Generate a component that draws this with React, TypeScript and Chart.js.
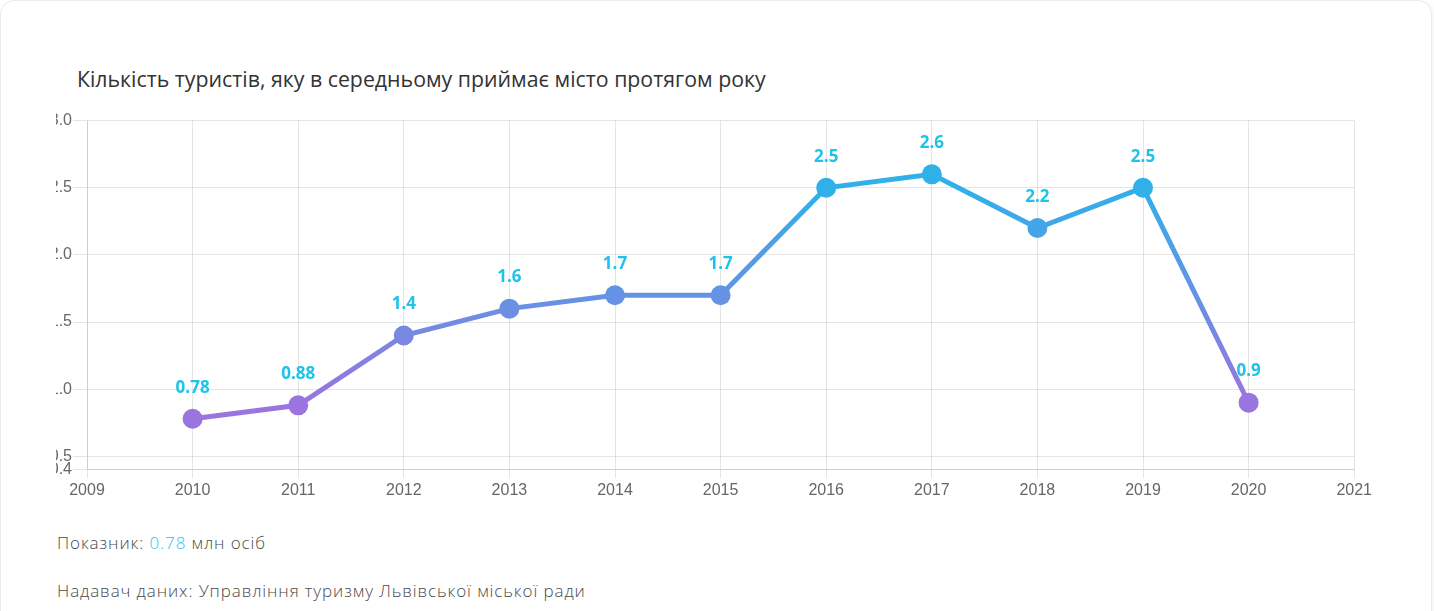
import React, { useEffect, useRef } from "react";
import { Chart, registerables } from "chart.js";

Chart.register(...registerables);

const TITLE = "Кількість туристів, яку в середньому приймає місто протягом року";
const years = [2010, 2011, 2012, 2013, 2014, 2015, 2016, 2017, 2018, 2019, 2020];
const tourists = [0.78, 0.88, 1.4, 1.6, 1.7, 1.7, 2.5, 2.6, 2.2, 2.5, 0.9];
const xRange = [2009, 2021];
const yRange = [0.4, 3.0];
const yTicks = [0.4, 0.5, 1.0, 1.5, 2.0, 2.5, 3.0];
const indicatorLabel = "Показник: ";
const indicatorValue = "0.78";
const indicatorUnit = " млн осіб";
const sourceText = "Надавач даних: Управління туризму Львівської міської ради";

const gradientFor = (chart: any) => {
  const { chartArea, scales } = chart;
  if (!chartArea) return "#7a8ee2";
  const y0 = scales.y.getPixelForValue(0.9);
  const y1 = scales.y.getPixelForValue(2.5);
  const g = chart.ctx.createLinearGradient(0, y0, 0, y1);
  g.addColorStop(0, "#9a75df");
  g.addColorStop(1, "#30b0e9");
  return g;
};

const valueLabels = {
  id: "valueLabels",
  afterDatasetsDraw(chart: any) {
    const ctx = chart.ctx;
    const meta = chart.getDatasetMeta(0);
    ctx.save();
    ctx.font = "bold 17px 'Open Sans', 'Noto Sans', sans-serif";
    ctx.fillStyle = "#1ec3ea";
    ctx.textAlign = "center";
    ctx.textBaseline = "middle";
    meta.data.forEach((pt: any, i: number) => {
      ctx.fillText(String(tourists[i]), pt.x, pt.y - 31);
    });
    ctx.restore();
  },
};

export default function App() {
  const ref = useRef<HTMLCanvasElement | null>(null);
  useEffect(() => {
    if (!ref.current) return;
    Chart.defaults.font.family = "'Liberation Sans', Arial, sans-serif";
    const chart = new Chart(ref.current, {
      type: "line",
      data: {
        datasets: [
          {
            data: years.map((y, i) => ({ x: y, y: tourists[i] })),
            borderColor: (c: any) => gradientFor(c.chart),
            pointBackgroundColor: (c: any) => gradientFor(c.chart),
            pointBorderWidth: 0,
            pointRadius: 10,
            borderWidth: 5,
            tension: 0,
            fill: false,
          },
        ],
      },
      options: {
        animation: false,
        responsive: false,
        maintainAspectRatio: false,
        layout: { padding: { top: 0, right: 0, bottom: 0, left: 0 } },
        plugins: { legend: { display: false }, tooltip: { enabled: false } },
        scales: {
          x: {
            type: "linear",
            min: xRange[0],
            max: xRange[1],
            ticks: {
              stepSize: 1,
              color: "#666",
              font: { size: 16 },
              padding: 3,
              callback: (v: any) => String(v),
            },
            grid: { color: "rgba(0,0,0,0.1)", tickLength: 8 },
          },
          y: {
            min: yRange[0],
            max: yRange[1],
            afterFit: (s: any) => {
              s.width = 31;
            },
            afterBuildTicks: (s: any) => {
              s.ticks = yTicks.map((v) => ({ value: v }));
            },
            ticks: {
              color: "#666",
              font: { size: 16 },
              padding: 1,
              callback: (v: any) => Number(v).toFixed(1),
            },
            grid: { color: "rgba(0,0,0,0.1)", tickLength: 14 },
          },
        },
      },
      plugins: [valueLabels],
    });
    return () => chart.destroy();
  }, []);

  const footStyle: React.CSSProperties = {
    position: "absolute",
    left: 57,
    fontFamily: "'Open Sans', 'Noto Sans', sans-serif",
    fontWeight: 300,
    fontSize: 17,
    letterSpacing: "0.9px",
    lineHeight: "17px",
    color: "#4a4a4a",
    whiteSpace: "nowrap",
  };

  return (
    <div style={{ position: "fixed", left: 0, top: 0, width: 1434, height: 611, background: "#fff", overflow: "hidden" }}>
      <div
        style={{
          position: "absolute",
          left: 0,
          top: 0,
          width: 1430,
          height: 700,
          border: "1px solid #ececec",
          borderRadius: 14,
          boxShadow: "2px 0 3px rgba(0,0,0,0.04)",
          background: "#fff",
        }}
      />
      <div
        style={{
          position: "absolute",
          left: 77,
          top: 68,
          fontFamily: "'Open Sans', 'Noto Sans', sans-serif",
          fontSize: 21.3,
          lineHeight: "21px",
          color: "#333",
          whiteSpace: "nowrap",
        }}
      >
        {TITLE}
      </div>
      <canvas
        ref={ref}
        width={1319}
        height={393}
        style={{ position: "absolute", left: 56, top: 110, width: 1319, height: 393 }}
      />
      <div style={{ ...footStyle, top: 534 }}>
        {indicatorLabel}
        <span style={{ color: "#1ec3ea" }}>{indicatorValue}</span>
        {indicatorUnit}
      </div>
      <div style={{ ...footStyle, top: 582 }}>{sourceText}</div>
    </div>
  );
}
